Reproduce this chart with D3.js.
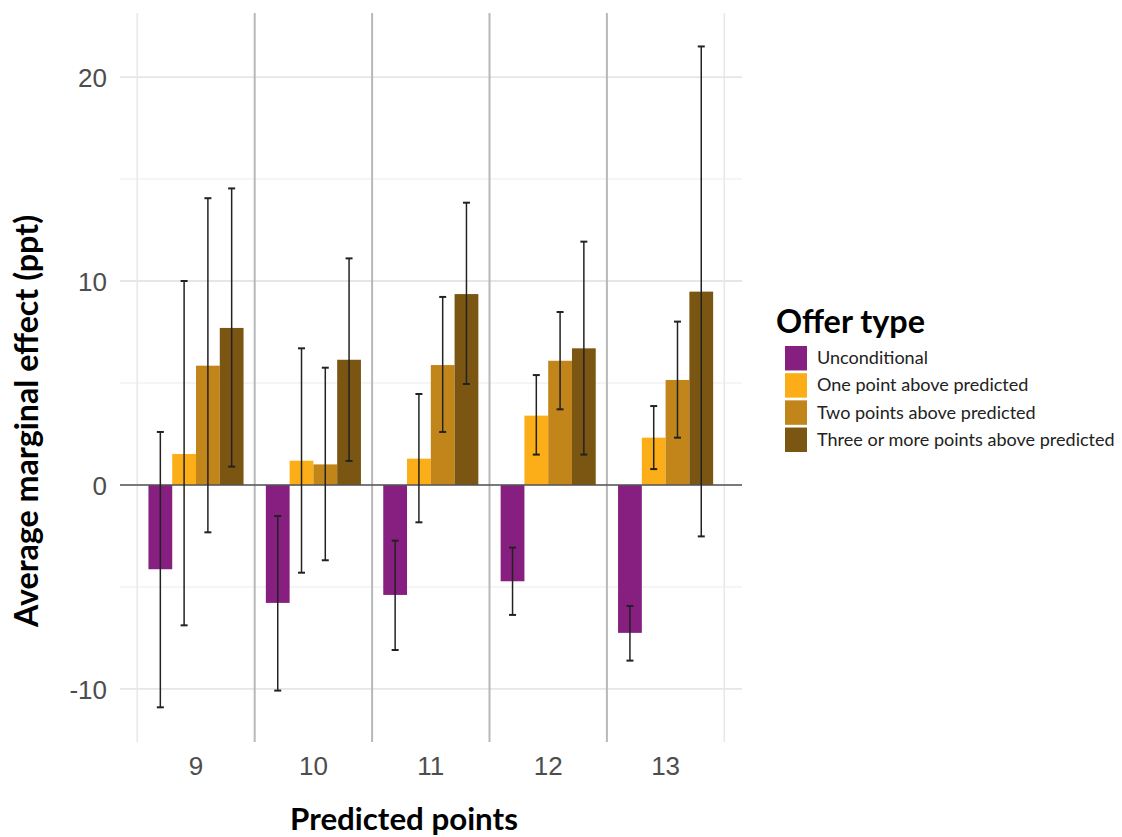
<!DOCTYPE html>
<html>
<head>
<meta charset="utf-8">
<script src="https://cdn.jsdelivr.net/npm/d3@7"></script>
<style>
  html, body { margin: 0; padding: 0; background: #ffffff; }
  svg { display: block; }
</style>
</head>
<body>
<svg id="chart" width="1122" height="837"></svg>
<script>
// ---------- data ----------
const categories = ["9", "10", "11", "12", "13"];
const series = ["Unconditional", "One point above predicted", "Two points above predicted", "Three or more points above predicted"];
const seriesColors = ["#861f80", "#fbae17", "#c2851a", "#7b5613"];
const valUnconditional = [-4.13, -5.78, -5.39, -4.72, -7.25];
const valOne   = [1.52, 1.19, 1.29, 3.40, 2.32];
const valTwo   = [5.85, 1.01, 5.88, 6.09, 5.15];
const valThree = [7.70, 6.14, 9.36, 6.70, 9.48];
const lowUnconditional = [-10.9, -10.08, -8.09, -6.37, -8.61];
const highUnconditional = [2.60, -1.52, -2.73, -3.07, -5.93];
const lowOne   = [-6.88, -4.30, -1.83, 1.49, 0.78];
const highOne  = [10.0, 6.70, 4.46, 5.39, 3.87];
const lowTwo   = [-2.32, -3.69, 2.60, 3.71, 2.32];
const highTwo  = [14.06, 5.75, 9.22, 8.48, 8.01];
const lowThree = [0.90, 1.18, 4.95, 1.49, -2.52];
const highThree= [14.54, 11.11, 13.84, 11.93, 21.5];
const yTicks = [-10, 0, 10, 20];
const yTickLabels = ["-10", "0", "10", "20"];
const yMinorTicks = [-5, 5, 15];
const xTitle = "Predicted points";
const yTitle = "Average marginal effect (ppt)";
const legendTitle = "Offer type";

const values = [valUnconditional, valOne, valTwo, valThree];
const lows = [lowUnconditional, lowOne, lowTwo, lowThree];
const highs = [highUnconditional, highOne, highTwo, highThree];

const rows = [];
series.forEach((s, si) => categories.forEach((c, ci) => {
  rows.push({cat: c, ser: s, si, v: values[si][ci], lo: lows[si][ci], hi: highs[si][ci]});
}));

// ---------- layout ----------
const svg = d3.select("#chart");
const panel = {left: 120, right: 742, top: 13, bottom: 742};

const x = d3.scaleBand().domain(categories).range([137.3, 724.3]).padding(0);
const groupW = x.bandwidth() * 0.81;
const xs = d3.scaleBand().domain(series).range([0, groupW]);
const y = d3.scaleLinear().domain([-12.6, 23.14]).range([panel.bottom, panel.top]);

// gridlines
const g = svg.append("g");
g.selectAll("line.minor").data(yMinorTicks).join("line")
  .attr("x1", panel.left).attr("x2", panel.right)
  .attr("y1", d => y(d)).attr("y2", d => y(d))
  .attr("stroke", "#f2f2f2").attr("stroke-width", 1.4);
g.selectAll("line.major").data(yTicks).join("line")
  .attr("x1", panel.left).attr("x2", panel.right)
  .attr("y1", d => y(d)).attr("y2", d => y(d))
  .attr("stroke", "#e6e6e6").attr("stroke-width", 1.8);

// vertical separators
const seps = categories.map(c => x(c)).concat([x.range()[1]]);
g.selectAll("line.sep").data(seps).join("line")
  .attr("x1", d => d).attr("x2", d => d)
  .attr("y1", panel.top).attr("y2", panel.bottom)
  .attr("stroke", (d, i) => (i === 0 || i === seps.length - 1) ? "#e8e8e8" : "#b8b8b8")
  .attr("stroke-width", (d, i) => (i === 0 || i === seps.length - 1) ? 1.6 : 2);

// bars
const barX = d => x(d.cat) + (x.bandwidth() - groupW) / 2 + xs(d.ser);
svg.append("g").selectAll("rect").data(rows).join("rect")
  .attr("x", barX)
  .attr("width", xs.bandwidth())
  .attr("y", d => y(Math.max(0, d.v)))
  .attr("height", d => Math.abs(y(d.v) - y(0)))
  .attr("fill", d => seriesColors[d.si]);

// zero line
svg.append("line")
  .attr("x1", panel.left).attr("x2", panel.right)
  .attr("y1", y(0)).attr("y2", y(0))
  .attr("stroke", "#555555").attr("stroke-width", 1.6);

// error bars
const eb = svg.append("g").attr("stroke", "#222222").attr("stroke-width", 1.5);
const cx = d => barX(d) + xs.bandwidth() / 2;
eb.selectAll("line.v").data(rows).join("line")
  .attr("x1", cx).attr("x2", cx)
  .attr("y1", d => y(d.hi)).attr("y2", d => y(d.lo));
eb.selectAll("line.t").data(rows).join("line")
  .attr("x1", d => cx(d) - 3.5).attr("x2", d => cx(d) + 3.5)
  .attr("y1", d => y(d.hi)).attr("y2", d => y(d.hi)).attr("stroke-width", 2);
eb.selectAll("line.b").data(rows).join("line")
  .attr("x1", d => cx(d) - 3.5).attr("x2", d => cx(d) + 3.5)
  .attr("y1", d => y(d.lo)).attr("y2", d => y(d.lo)).attr("stroke-width", 2);

// axes
const yAxis = svg.append("g").attr("transform", `translate(${panel.left - 13},0)`)
  .call(d3.axisLeft(y).tickValues(yTicks).tickSize(0).tickPadding(0)
    .tickFormat((d, i) => yTickLabels[i]));
yAxis.select(".domain").remove();
yAxis.selectAll("text").attr("font-family", "Liberation Sans, Arial, sans-serif")
  .attr("font-size", 26).attr("fill", "#4d4d4d").attr("dy", "0.36em");

const xAxis = svg.append("g").attr("transform", `translate(0,${panel.bottom})`)
  .call(d3.axisBottom(x).tickSize(0).tickPadding(0));
xAxis.select(".domain").remove();
xAxis.selectAll("text").attr("font-family", "Liberation Sans, Arial, sans-serif")
  .attr("font-size", 26).attr("fill", "#4d4d4d").attr("dy", null).attr("y", 33);

// fit helper
function fit(sel, target) {
  const w = sel.node().getComputedTextLength();
  const fs = parseFloat(sel.attr("font-size"));
  sel.attr("font-size", fs * target / w);
}

// titles
const yt = svg.append("text")
  .attr("transform", "translate(38,421) rotate(-90)")
  .attr("text-anchor", "middle")
  .attr("font-family", "Lato, 'Open Sans', sans-serif").attr("font-weight", 700)
  .attr("font-size", 28).attr("fill", "#000").text(yTitle);
fit(yt, 412);

const xt = svg.append("text")
  .attr("x", 404).attr("y", 830).attr("text-anchor", "middle")
  .attr("font-family", "Lato, 'Open Sans', sans-serif").attr("font-weight", 700)
  .attr("font-size", 28).attr("fill", "#000").text(xTitle);
fit(xt, 228);

// legend
const lg = svg.append("g");
const lt = lg.append("text").attr("x", 776).attr("y", 333)
  .attr("font-family", "Lato, 'Open Sans', sans-serif").attr("font-weight", 700)
  .attr("font-size", 26).attr("fill", "#000").text(legendTitle);
fit(lt, 149);

const keyY = d3.scaleBand().domain(series).range([346, 452]).paddingInner(0.1);
lg.selectAll("rect").data(series).join("rect")
  .attr("x", 785).attr("y", d => keyY(d))
  .attr("width", 22).attr("height", keyY.bandwidth())
  .attr("fill", (d, i) => seriesColors[i]);
const items = lg.selectAll("text.item").data(series).join("text")
  .attr("class", "item")
  .attr("x", 817).attr("y", d => keyY(d) + keyY.bandwidth() / 2 + 6)
  .attr("font-family", "Lato, 'Open Sans', sans-serif")
  .attr("font-size", 18).attr("fill", "#222").text(d => d);
const longest = items.filter((d, i) => i === 3);
const w0 = longest.node().getComputedTextLength();
items.attr("font-size", 18 * 298 / w0);
</script>
</body>
</html>
